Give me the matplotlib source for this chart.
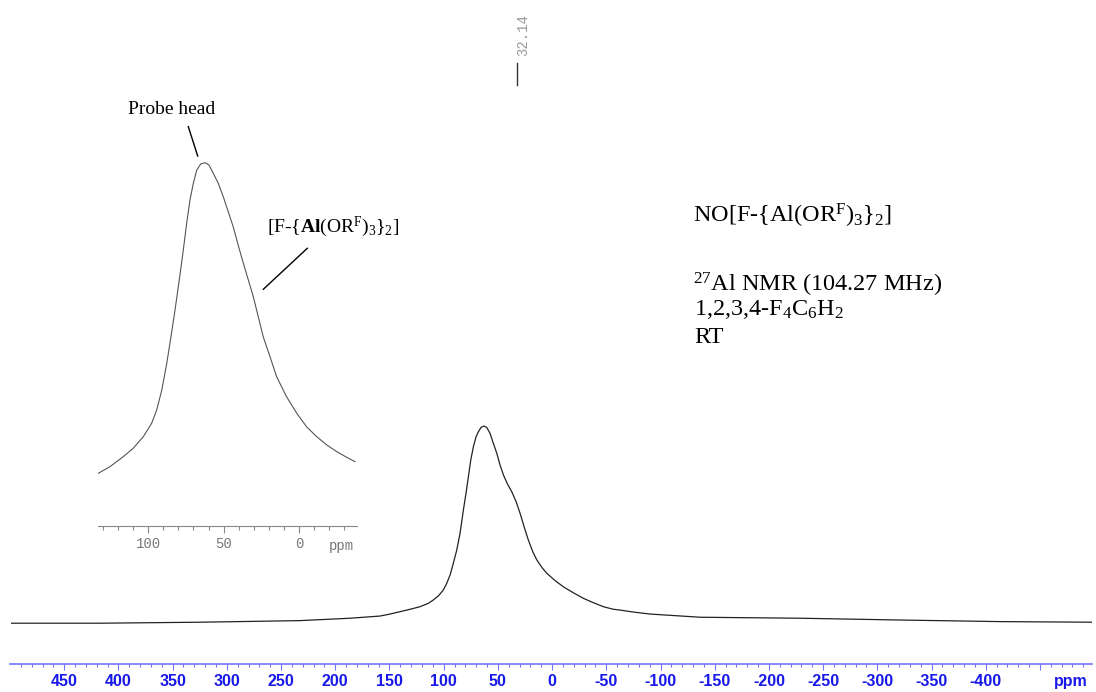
import matplotlib
matplotlib.use("Agg")
import matplotlib.pyplot as plt
from matplotlib.lines import Line2D

plt.rcParams['font.family'] = ['Liberation Serif', 'DejaVu Serif']
plt.rcParams['mathtext.fontset'] = 'custom'
plt.rcParams['mathtext.rm'] = 'Liberation Serif'
plt.rcParams['mathtext.it'] = 'Liberation Serif:italic'
plt.rcParams['mathtext.bf'] = 'Liberation Serif:bold'

# 27Al spectrum, full range (ppm, relative intensity)
ppm_main = [498.5, 417.1, 324.8, 232.5, 186.4, 158.7, 149.5, 140.2, 131.0, 121.8, 114.1,
            109.5, 104.9, 100.3, 97.2, 94.1, 91.1, 87.9, 84.9, 81.8, 79.4, 77.2, 75.0,
            72.6, 70.1, 68.0, 65.5, 62.7, 60.3, 57.2, 54.2, 51.0, 48.0, 44.9, 41.2,
            37.2, 33.2, 29.5, 25.8, 21.9, 17.8, 14.1, 9.5, 4.9, -2.8, -10.4, -19.6,
            -28.9, -38.1, -47.3, -56.6, -62.7, -75.0, -90.4, -136.6, -228.8, -321.1,
            -413.4, -498.0]
int_main = [0.009, 0.009, 0.014, 0.022, 0.034, 0.045, 0.055, 0.067, 0.079, 0.092, 0.109,
            0.126, 0.146, 0.176, 0.209, 0.251, 0.310, 0.377, 0.461, 0.578, 0.662, 0.745, 0.829,
            0.896, 0.946, 0.971, 0.993, 1.0, 0.993, 0.963, 0.913, 0.863, 0.804, 0.754, 0.709,
            0.670, 0.620, 0.561, 0.494, 0.427, 0.368, 0.327, 0.290, 0.260, 0.223, 0.192, 0.162,
            0.134, 0.112, 0.092, 0.079, 0.075, 0.065, 0.055, 0.039, 0.034, 0.025,
            0.017, 0.014]

# expanded view of the peak (inset)
ppm_inset = [133.1, 125.3, 116.5, 109.9, 103.2, 97.7, 94.4, 91.0, 87.7, 84.9, 82.2, 79.4,
             76.7, 74.5, 72.3, 70.1, 67.8, 65.2, 62.3, 59.7, 56.8, 53.5, 50.2, 46.9, 43.6,
             40.3, 36.9, 33.6, 30.3, 27.0, 23.7, 19.2, 14.8, 8.2, 1.5, -5.1, -11.7, -18.4,
             -25.0, -31.6, -37.1]
int_inset = [0.068, 0.088, 0.118, 0.143, 0.178, 0.218, 0.257, 0.317, 0.397, 0.477, 0.557, 0.647,
             0.737, 0.816, 0.886, 0.936, 0.976, 0.994, 0.998, 0.991, 0.966, 0.936, 0.896, 0.851, 0.806,
             0.751, 0.697, 0.647, 0.597, 0.537, 0.477, 0.417, 0.357, 0.297, 0.248, 0.207, 0.178, 0.153,
             0.133, 0.116, 0.103]

main_ticks = [450, 400, 350, 300, 250, 200, 150, 100, 50, 0, -50, -100, -150,
              -200, -250, -300, -350, -400, -450]
main_labels = ['450', '400', '350', '300', '250', '200', '150', '100', '50', '0', '-50',
               '-100', '-150', '-200', '-250', '-300', '-350', '-400', '']
inset_ticks = [100, 50, 0]
inset_labels = ['100', '50', '0']
peak_pick = 32.14

W, H = 1096, 692
def fx(px):
    return px / W
def fy(py):
    return 1 - py / H

fig = plt.figure(figsize=(10.96, 6.92), dpi=100)

blue_line = '#7373ff'
blue_txt = '#1818e8'

# main spectrum
ax = fig.add_axes([fx(10), fy(664), 1082 / W, 664 / H])
ax.patch.set_visible(False)
ax.plot(ppm_main, int_main, color='#222222', lw=0.9)
ax.set_xlim(500, -498)
ax.set_ylim(-0.196, 3.141)
for s in ['top', 'left', 'right']:
    ax.spines[s].set_visible(False)
ax.spines['bottom'].set_color(blue_line)
ax.spines['bottom'].set_linewidth(1.2)
ax.set_yticks([])
ax.set_xticks(main_ticks)
ax.set_xticklabels(main_labels)
ax.set_xticks(list(range(490, -491, -10)), minor=True)
ax.tick_params(axis='x', which='major', length=4.3, width=0.8, color=blue_line,
               labelsize=11.5, labelcolor=blue_txt, pad=3)
ax.tick_params(axis='x', which='minor', length=1.8, width=0.8, color=blue_line)
for lab in ax.get_xticklabels():
    lab.set_fontfamily('Liberation Sans')
    lab.set_fontweight('bold')
ax.text(-478, -0.027, 'ppm', transform=ax.get_xaxis_transform(), ha='center', va='center',
        fontsize=11.5, fontweight='bold', color=blue_txt, family='Liberation Sans')

# peak pick marker
ax.plot([peak_pick, peak_pick], [0.872, 0.905], color='#333333', lw=1.0,
        transform=ax.get_xaxis_transform())
ax.annotate('%.2f' % peak_pick, xy=(peak_pick, 0.947), xycoords=('data', 'axes fraction'),
            xytext=(4.3, 0), textcoords='offset points', rotation=90, ha='center', va='center',
            fontsize=10, color='#999999', family='Liberation Mono')

# inset
ax2 = fig.add_axes([fx(98.3), fy(526), 258.4 / W, 376 / H])
ax2.patch.set_visible(False)
ax2.plot(ppm_inset, int_inset, color='#555555', lw=0.8)
ax2.set_xlim(133.1, -38.3)
ax2.set_ylim(-0.0898, 1.036)
for s in ['top', 'left', 'right']:
    ax2.spines[s].set_visible(False)
ax2.spines['bottom'].set_color('#888888')
ax2.set_yticks([])
ax2.set_xticks(inset_ticks)
ax2.set_xticklabels(inset_labels)
ax2.set_xticks(list(range(130, -40, -10)), minor=True)
ax2.tick_params(axis='x', which='major', length=5, width=0.8, color='#888888',
                labelsize=10, labelcolor='#777777', pad=3)
ax2.tick_params(axis='x', which='minor', length=2.9, width=0.8, color='#888888')
for lab in ax2.get_xticklabels():
    lab.set_fontfamily('Liberation Mono')
ax2.text(-28.3, -0.0524, 'ppm', transform=ax2.get_xaxis_transform(), ha='center', va='center',
         fontsize=10, color='#777777', family='Liberation Mono')

# labels in the inset
fig.text(fx(171.7), fy(114), 'Probe head', ha='center', va='baseline', fontsize=14)
fig.add_artist(Line2D([fx(188.3), fx(197.7)], [fy(126.7), fy(156)], color='black', lw=1.0))
fig.text(fx(266.7), fy(231.7), r'[F-{$\mathbf{Al}$(OR$^\mathrm{F}$)$_3$}$_2$]',
         ha='left', va='baseline', fontsize=14)
fig.add_artist(Line2D([fx(307.3), fx(263.3)], [fy(248.3), fy(289.3)], color='black', lw=1.0))

# sample info
fig.text(fx(693), fy(222.7), r'NO[F-{Al(OR$^\mathrm{F}$)$_3$}$_2$]', ha='left', va='baseline',
         fontsize=17.5)
fig.text(fx(693), fy(291.7), r'$^{27}$Al NMR (104.27 MHz)', ha='left', va='baseline', fontsize=17.5)
fig.text(fx(694), fy(315), r'1,2,3,4-F$_4$C$_6$H$_2$', ha='left', va='baseline', fontsize=17.5)
fig.text(fx(694), fy(343.3), 'RT', ha='left', va='baseline', fontsize=17.5)

fig.savefig('out.png', dpi=100)
